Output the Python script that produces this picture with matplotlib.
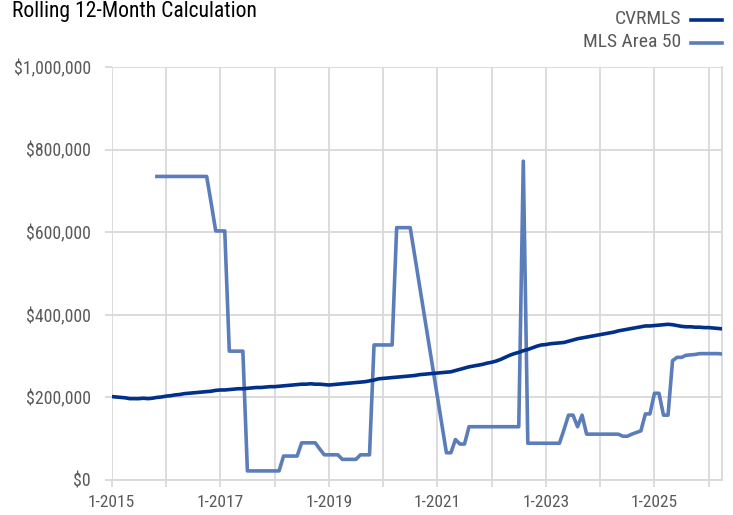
import numpy as np
import matplotlib
matplotlib.use("Agg")
import matplotlib.pyplot as plt
from matplotlib.lines import Line2D
from matplotlib.ticker import FuncFormatter
from matplotlib import font_manager as fm

available = {f.name for f in fm.fontManager.ttflist}
narrow = None
for cand in ['Roboto Condensed', 'Liberation Sans Narrow', 'Arial Narrow', 'Open Sans Condensed',
             'Noto Sans Condensed', 'DejaVu Sans Condensed']:
    if cand in available:
        narrow = cand
        break
if narrow is None:
    plt.rcParams['font.family'] = ['DejaVu Sans']
    plt.rcParams['font.stretch'] = 'condensed'
    scale = 0.85
else:
    plt.rcParams['font.family'] = [narrow, 'DejaVu Sans']
    scale = 1.0

# Monthly data, Jan 2015 .. Apr 2026 (values in $ thousands)
start_year = 2015
cvrmls = [
    202, 201, 200, 199, 197, 197, 197, 198, 197, 198, 200, 201,   # 2015
    203, 204, 206, 207, 209, 210, 211, 212, 213, 214, 215, 217,   # 2016
    218, 218, 219, 220, 221, 221, 222, 223, 224, 224, 225, 226,   # 2017
    226, 227, 228, 229, 230, 231, 232, 232, 233, 232, 232, 231,   # 2018
    230, 231, 232, 233, 234, 235, 236, 237, 238, 240, 242, 245,   # 2019
    246, 247, 248, 249, 250, 251, 252, 253, 255, 256, 257, 258,   # 2020
    259, 260, 261, 262, 265, 268, 271, 274, 276, 278, 280, 283,   # 2021
    285, 288, 292, 297, 302, 306, 309, 313, 316, 320, 324, 327,   # 2022
    328, 330, 331, 332, 333, 336, 339, 342, 344, 346, 348, 350,   # 2023
    352, 354, 356, 358, 361, 363, 365, 367, 369, 371, 373, 373,   # 2024
    374, 375, 376, 377, 376, 374, 372, 371, 371, 370, 370, 369,   # 2025
    369, 368, 367, 366,                                           # 2026
]
N = None
mls_area_50 = [
    N, N, N, N, N, N, N, N, N, N, 735, 735,                       # 2015
    735, 735, 735, 735, 735, 735, 735, 735, 735, 735, 670, 603,   # 2016
    603, 603, 312, 312, 312, 312, 22, 22, 22, 22, 22, 22,         # 2017
    22, 22, 58, 58, 58, 58, 90, 90, 90, 90, 75, 61,               # 2018
    61, 61, 61, 50, 50, 50, 50, 61, 61, 61, 327, 327,             # 2019
    327, 327, 327, 611, 611, 611, 611, N, N, N, N, N,             # 2020
    N, N, 66, 66, 98, 87, 87, 129, 129, 129, 129, 129,            # 2021
    129, 129, 129, 129, 129, 129, 129, 772, 89, 89, 89, 89,       # 2022
    89, 89, 89, 89, 122, 157, 157, 129, 157, 111, 111, 111,       # 2023
    111, 111, 111, 111, 111, 106, 106, 111, 115, 119, 160, 160,   # 2024
    210, 210, 157, 157, 289, 297, 297, 302, 303, 304, 306, 306,   # 2025
    306, 306, 306, 305,                                           # 2026
]
series_names = ["CVRMLS", "MLS Area 50"]
y_ticks = [0, 200000, 400000, 600000, 800000, 1000000]

months = np.arange(len(cvrmls))
cv = np.array(cvrmls, dtype=float) * 1000
ml = np.array([np.nan if v is None else v for v in mls_area_50], dtype=float) * 1000
mask = ~np.isnan(ml)

navy = '#00308A'
light = '#5B7DBA'
grid_c = '#D9D9D9'
text_c = '#595959'

fig = plt.figure(figsize=(7.33, 5.15), dpi=100)
ax = fig.add_axes([111.7/733, 1-480/515, (722.3-111.7)/733, (480-67)/515])

ax.plot(months, cv, color=navy, lw=2.6, solid_joinstyle='round', zorder=4)
ax.plot(months[mask], ml[mask], color=light, lw=2.6, solid_joinstyle='round', zorder=3)

ax.set_xlim(0, len(cvrmls) - 1)
ax.set_ylim(0, 1000000)

year_ticks = np.arange(0, len(cvrmls), 12)
ax.set_xticks(year_ticks)
ax.set_xticklabels([f"1-{start_year + i // 12}" if (i // 12) % 2 == 0 else "" for i in year_ticks])
ax.set_yticks(y_ticks)
ax.yaxis.set_major_formatter(FuncFormatter(lambda v, p: f"${v:,.0f}"))

ax.grid(True, color=grid_c, lw=1.3, zorder=0)
for s in ['top', 'left']:
    ax.spines[s].set_visible(False)
ax.spines['right'].set_color(grid_c)
ax.spines['right'].set_linewidth(1.3)
ax.spines['bottom'].set_color(grid_c)
ax.spines['bottom'].set_linewidth(1.3)
ax.tick_params(axis='both', direction='out', length=5, width=1.3, color=grid_c,
               labelcolor=text_c, labelsize=12.8 * scale)
ax.tick_params(axis='y', pad=10)
ax.tick_params(axis='x', pad=6, labelsize=12.5 * scale)

fig.text(12/733, 1-12/515, "Rolling 12-Month Calculation", fontsize=15.6 * scale, color='black',
         ha='left', va='center')

legend_y = [19, 42]
for name, col, yy in zip(series_names, [navy, light], legend_y):
    fig.text(681/733, 1-yy/515, name, fontsize=14 * scale, color=text_c, ha='right', va='center')
    fig.add_artist(Line2D([691/733, 722/733], [1-(yy+1)/515, 1-(yy+1)/515], color=col, lw=2.6,
                          transform=fig.transFigure))

fig.savefig("out.png", dpi=100)
